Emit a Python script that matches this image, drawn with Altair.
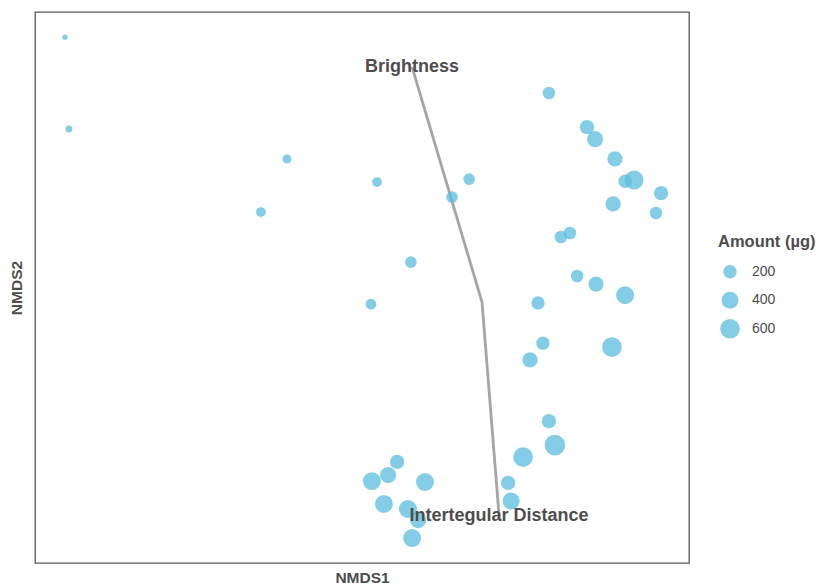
import altair as alt
import numpy as np
import pandas as pd

# NMDS ordination scores for each sample and the amount collected (µg)
nmds1 = [-1.390, -1.377, -0.650, -0.737, -0.350, -0.043, -0.100, -0.237, -0.370,
         0.223, 0.350, 0.377, 0.443, 0.477, 0.507, 0.597, 0.437, 0.580,
         0.293, 0.263, 0.317, 0.380, 0.477, 0.187, 0.203, 0.160, 0.433,
         0.223, 0.243, 0.137, -0.283, -0.313, -0.367, -0.190, 0.087, 0.097,
         -0.327, -0.247, -0.213, -0.233]
nmds2 = [0.883, 0.577, 0.477, 0.300, 0.400, 0.410, 0.350, 0.133, -0.007,
         0.697, 0.583, 0.543, 0.477, 0.403, 0.407, 0.363, 0.327, 0.297,
         0.230, 0.217, 0.087, 0.060, 0.023, -0.003, -0.137, -0.193, -0.150,
         -0.397, -0.477, -0.517, -0.533, -0.577, -0.597, -0.600, -0.603, -0.663,
         -0.673, -0.690, -0.727, -0.787]
amount = [10, 19, 48, 69, 69, 125, 125, 125, 95,
          161, 245, 349, 295, 200, 539, 245, 295, 161,
          161, 161, 161, 295, 471, 200, 200, 295, 612,
          245, 690, 612, 245, 349, 471, 471, 245, 408,
          471, 471, 349, 471]

# Fitted trait vectors (envfit-style arrows from the origin)
vector_names = ["Brightness", "Intertegular Distance"]
vector_x = [-0.233, 0.057]
vector_y = [0.783, -0.713]

points = pd.DataFrame({"NMDS1": nmds1, "NMDS2": nmds2, "Amount": amount})
vectors = pd.DataFrame({"name": vector_names, "x0": [0.0, 0.0], "y0": [0.0, 0.0],
                        "x": vector_x, "y": vector_y})

# Size scale: diameter grows with the square root of the amount above the
# minimum (area-style scaling), expressed as a piecewise-linear area scale.
size_knots = [10, 20, 50, 100, 150, 200, 300, 400, 500, 600, 700]
v_min = min(amount)
diam = [6.0 + 0.665 * np.sqrt(v - v_min) for v in size_knots]
size_range = [float(np.pi / 4 * d * d) for d in diam]

FONT = "Liberation Sans"
x_scale = alt.Scale(domain=[-1.49, 0.69], nice=False, zero=False)
y_scale = alt.Scale(domain=[-0.87, 0.967], nice=False, zero=False)
x_axis = alt.Axis(title="NMDS1", labels=False, ticks=False, domain=False, grid=False,
                  titlePadding=7)
y_axis = alt.Axis(title="NMDS2", labels=False, ticks=False, domain=False, grid=False,
                  titlePadding=11)

arrows = alt.Chart(vectors).mark_rule(color="#a5a5a5", strokeWidth=2.8).encode(
    x=alt.X("x0:Q", scale=x_scale, axis=x_axis),
    y=alt.Y("y0:Q", scale=y_scale, axis=y_axis),
    x2="x:Q",
    y2="y:Q",
)

dots = alt.Chart(points).mark_circle(color="#5bbcdf", opacity=0.75).encode(
    x=alt.X("NMDS1:Q", scale=x_scale, axis=x_axis),
    y=alt.Y("NMDS2:Q", scale=y_scale, axis=y_axis),
    size=alt.Size(
        "Amount:Q",
        scale=alt.Scale(domain=size_knots, range=size_range, zero=False),
        legend=alt.Legend(
            title="Amount (µg)",
            values=[200, 400, 600],
            orient="none",
            legendX=683,
            legendY=222,
            symbolFillColor="#5bbcdf",
            symbolOpacity=0.75,
            symbolStrokeWidth=0,
            symbolType="circle",
            clipHeight=25.5,
            symbolOffset=2,
        ),
    ),
)

labels = alt.Chart(vectors).mark_text(
    font=FONT, fontSize=18, fontWeight="bold", color="#4d4d4d",
    align="center", baseline="middle",
).encode(
    x=alt.X("x:Q", scale=x_scale, axis=x_axis),
    y=alt.Y("y:Q", scale=y_scale, axis=y_axis),
    text="name:N",
)

chart = (
    alt.layer(arrows, dots, labels)
    .properties(
        width=654,
        height=551,
        autosize=alt.AutoSizeParams(type="none"),
        padding={"left": 35, "top": 12, "right": 127, "bottom": 22},
        background="white",
    )
    .configure_view(stroke="#555555", strokeWidth=1.3)
    .configure_axis(titleFont=FONT, titleFontSize=15.5, titleFontWeight="bold",
                    titleColor="#4d4d4d")
    .configure_legend(titleFont=FONT, titleFontSize=16.5, titleFontWeight="bold",
                      titleColor="#4d4d4d", labelFont=FONT, labelFontSize=14,
                      labelColor="#4d4d4d", rowPadding=2.5, titlePadding=8.5,
                      labelOffset=12)
)

chart.save("out.html", embed_options={"renderer": "svg", "actions": False})
